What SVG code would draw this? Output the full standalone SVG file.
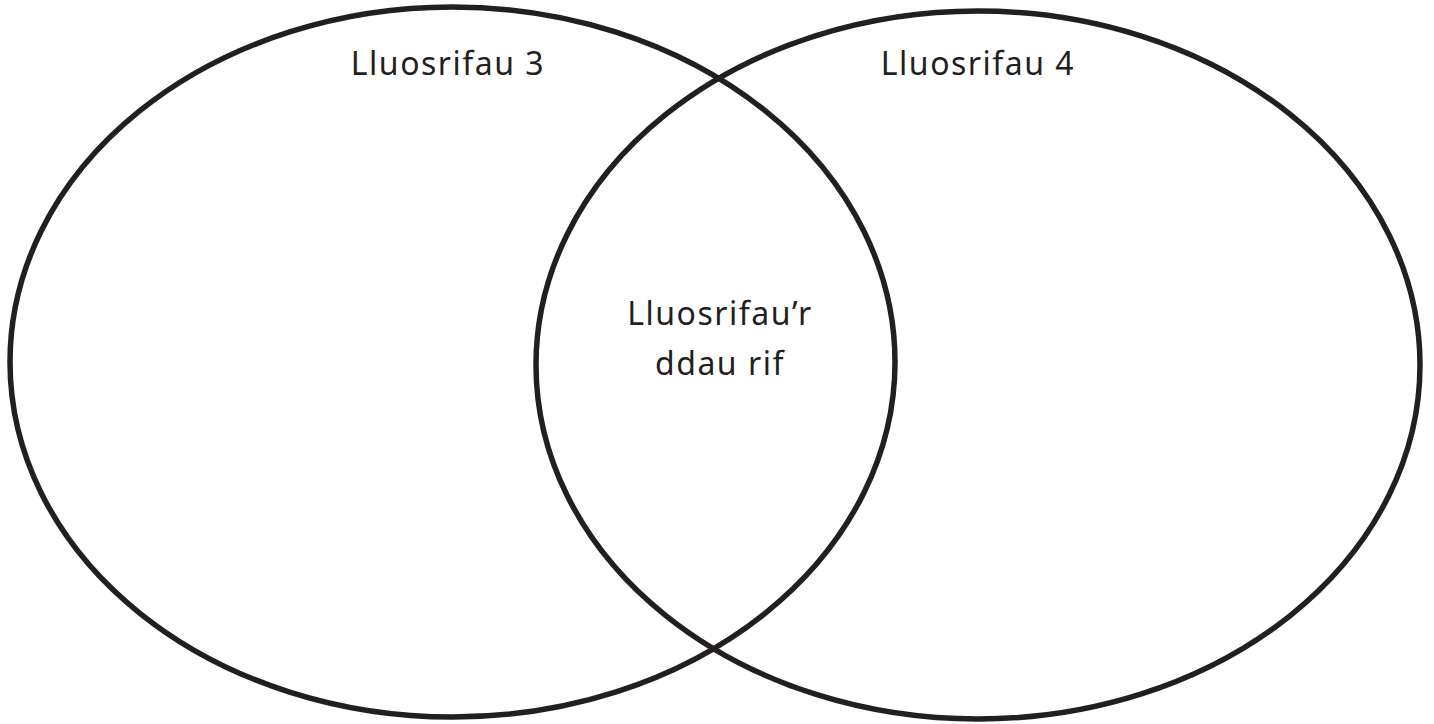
<svg xmlns="http://www.w3.org/2000/svg" width="1434" height="724" viewBox="0 0 1434 724">
<style>
.set{fill:none;stroke:#231f20;stroke-width:5.5}
.lbl{font-family:"Noto Sans","DejaVu Sans",sans-serif;font-size:32px;letter-spacing:1.5px;fill:#231f20;text-anchor:middle}
</style>
<rect width="1434" height="724" fill="#fff"/>
<g id="set-3">
<ellipse class="set" cx="452.5" cy="362" rx="442.5" ry="355"/>
<text class="lbl" x="448" y="75">Lluosrifau 3</text>
</g>
<g id="set-4">
<ellipse class="set" cx="978" cy="365" rx="442" ry="354"/>
<text class="lbl" x="978" y="75">Lluosrifau 4</text>
</g>
<g id="intersection">
<text class="lbl" x="720" y="325">Lluosrifau’r</text>
<text class="lbl" x="720" y="375">ddau rif</text>
</g>
<g id="connectors"></g>
</svg>
